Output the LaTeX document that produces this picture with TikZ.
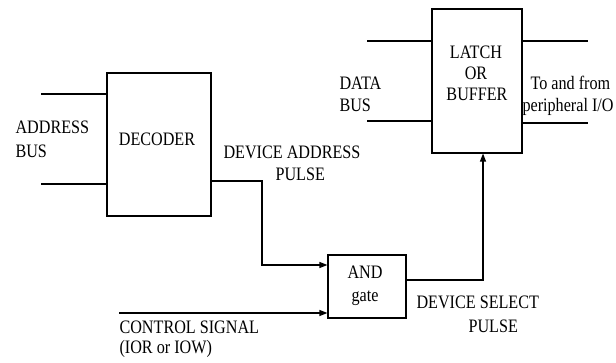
\documentclass[tikz,border=0pt]{standalone}
\usepackage{fontspec}
\setmainfont{Liberation Serif}[FakeStretch=0.85]
\usetikzlibrary{arrows.meta}
\begin{document}
\begin{tikzpicture}[x=1pt,y=-1pt,line width=1.1pt,
  box/.style={draw,inner sep=0pt},
  txt/.style={font=\fontsize{19}{22}\selectfont,inner sep=0pt,anchor=base west},
  ctxt/.style={txt,anchor=base},
  arr/.style={-{Triangle[length=8pt,width=6pt]}}]
\useasboundingbox (0,0) rectangle (616,363);
% boxes
\node[box,minimum width=104pt,minimum height=143pt] (dec) at (159,144.5) {};
\node[box,minimum width=78pt,minimum height=63pt] (and) at (367,286.5) {};
\node[box,minimum width=90pt,minimum height=144pt] (latch) at (477,81) {};
% box texts
\node[ctxt] (tdec) at (157,146) {DECODER};
\node[ctxt] (tand) at (365,279) {AND};
\node[ctxt] (tgate) at (365,302) {gate};
\node[ctxt] (tlatch) at (476,59) {LATCH};
\node[ctxt] (tor) at (476,80) {OR};
\node[ctxt] (tbuf) at (477,101) {BUFFER};
% labels
\node[txt] (addr1) at (15,134) {ADDRESS};
\node[txt] (addr2) at (15,158) {BUS};
\node[txt] (dap1) at (223,159) {DEVICE ADDRESS};
\node[txt] (dap2) at (275,181) {PULSE};
\node[txt] (dsp1) at (416,309) {DEVICE SELECT};
\node[txt] (dsp2) at (468,333) {PULSE};
\node[txt] (cs1) at (119,334) {CONTROL SIGNAL};
\node[txt] (cs2) at (119,353) {(IOR or IOW)};
\node[txt] (db1) at (339,90) {DATA};
\node[txt] (db2) at (339,112) {BUS};
\node[txt] (io1) at (530,90) {To and from};
\node[txt] (io2) at (522,112) {peripheral I/O};
% free-end coordinates
\coordinate (a1) at (41,94);
\coordinate (a2) at (41,184);
\coordinate (d1) at (367,41);
\coordinate (d2) at (367,121);
\coordinate (p1) at (588,41);
\coordinate (p2) at (588,123);
\coordinate (cs) at (119,313);
\coordinate (bend1) at (262,265);
\coordinate (up) at (483,280);
% connectors
\draw (a1) -- (dec.west |- a1);
\draw (a2) -- (dec.west |- a2);
\draw (d1) -- (latch.west |- d1);
\draw (d2) -- (latch.west |- d2);
\draw (latch.east |- p1) -- (p1);
\draw (latch.east |- p2) -- (p2);
\draw[arr] (dec.east |- 0,181) -| (bend1) -- (and.west |- bend1);
\draw[arr] (cs) -- (and.west |- cs);
\draw[arr] (and.east |- up) -- (up) -- (latch.south -| up);
\end{tikzpicture}
\end{document}
